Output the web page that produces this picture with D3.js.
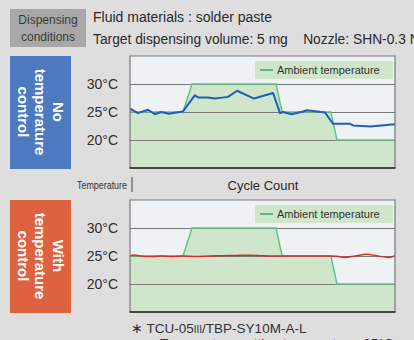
<!DOCTYPE html>
<html><head><meta charset="utf-8">
<script src="https://cdn.jsdelivr.net/npm/d3@7"></script>
<style>
html,body{margin:0;padding:0;background:#dedede;}
svg{display:block;font-family:"Liberation Sans",Arial,sans-serif;}
</style></head>
<body>
<svg id="c" width="414" height="340"></svg>
<script>
// ---- data ----
const yTicks = [20, 25, 30];
const ambientCycle = [0, 20, 23.4, 55.1, 57.4, 75.8, 78.1, 100];
const ambientTemp  = [25, 25, 30, 30, 25, 25, 20, 20];
const noCtrlCycle = [0, 3, 6.8, 9.4, 11.7, 14.7, 17.4, 20, 24.5, 25.7, 29.4, 32, 37, 40.4, 46.8, 54, 56.6, 57.7, 61, 65.3, 66.8, 73.6, 76.6, 83, 84.2, 90.6, 100];
const noCtrlTemp  = [25.6, 24.8, 25.4, 24.6, 25.0, 24.7, 24.9, 25.1, 28.0, 27.6, 27.6, 27.4, 27.7, 28.8, 27.4, 28.4, 24.8, 25.0, 24.6, 25.1, 25.3, 24.9, 22.9, 22.9, 22.6, 22.4, 22.8];
const ctrlCycle = [0, 1.5, 4, 8, 12, 16, 20, 25, 30, 35, 40, 45, 50, 55, 60, 65, 70, 75, 78, 81, 85, 89.4, 93, 97.7, 100];
const ctrlTemp  = [25.0, 25.2, 25.0, 24.9, 25.0, 24.9, 25.0, 24.9, 25.0, 25.05, 25.1, 25.15, 25.05, 25.0, 25.0, 25.0, 25.0, 25.0, 24.95, 24.75, 25.0, 25.3, 25.05, 24.75, 25.05];

const svg = d3.select("#c");
const W = 414, H = 340;
svg.append("rect").attr("width", W).attr("height", H).attr("fill", "#dedede");

// header
svg.append("rect").attr("x", 10).attr("y", 9).attr("width", 76).attr("height", 38).attr("fill", "#a8a8a8");
svg.append("text").attr("x", 48).attr("y", 24).attr("text-anchor", "middle").attr("font-size", 12).attr("fill", "#3a3a3a").text("Dispensing");
svg.append("text").attr("x", 48).attr("y", 41).attr("text-anchor", "middle").attr("font-size", 12).attr("fill", "#3a3a3a").text("conditions");
svg.append("text").attr("x", 93).attr("y", 22).attr("font-size", 14).attr("fill", "#2a2a2a").text("Fluid materials : solder paste");
svg.append("text").attr("x", 93).attr("y", 44).attr("font-size", 13.8).attr("fill", "#2a2a2a")
  .text("Target dispensing volume: 5 mg\u00a0\u00a0\u00a0\u00a0Nozzle: SHN-0.3 N");

const x = d3.scaleLinear().domain([0, 100]).range([130, 395]);

function panel(top, bottom, lineCycle, lineTemp, lineColor, lineW, curve, sideColor, sideLines) {
  const y = d3.scaleLinear().domain([15, 35]).range([bottom, top]);
  const g = svg.append("g");
  g.append("rect").attr("x", x(0)).attr("y", top).attr("width", x(100) - x(0)).attr("height", bottom - top).attr("fill", "#eef2f4");
  const amb = ambientCycle.map((c, i) => [c, ambientTemp[i]]);
  g.append("path").datum(amb)
    .attr("d", d3.area().x(d => x(d[0])).y0(bottom).y1(d => y(d[1])))
    .attr("fill", "#cfe6cb");
  // grid
  const ax = d3.axisLeft(y).tickValues(yTicks).tickSize(-(x(100) - x(0))).tickFormat(d => d + "°C").tickPadding(12);
  const ag = g.append("g").attr("transform", `translate(${x(0)},0)`).call(ax);
  ag.select(".domain").remove();
  ag.selectAll(".tick line").attr("stroke", "#7a7a7a").attr("stroke-width", 1);
  ag.selectAll(".tick text").attr("font-size", 14).attr("fill", "#2e2e2e").attr("font-family", "'Liberation Sans',Arial,sans-serif");
  g.append("path").datum(amb)
    .attr("d", d3.line().x(d => x(d[0])).y(d => y(d[1])))
    .attr("fill", "none").attr("stroke", "#66c088").attr("stroke-width", 1.5);
  const pts = lineCycle.map((c, i) => [c, lineTemp[i]]);
  g.append("path").datum(pts)
    .attr("d", d3.line().x(d => x(d[0])).y(d => y(d[1])).curve(curve))
    .attr("fill", "none").attr("stroke", lineColor).attr("stroke-width", lineW).attr("stroke-linejoin", "round");
  // frame
  g.append("path").attr("d", `M${x(0)},${bottom}V${top}H${x(100)}V${bottom}`).attr("fill", "none").attr("stroke", "#777").attr("stroke-width", 1.2);
  g.append("line").attr("x1", x(0) - 0.5).attr("x2", x(100) + 0.5).attr("y1", bottom).attr("y2", bottom).attr("stroke", "#444").attr("stroke-width", 2);
  // legend
  g.append("rect").attr("x", 255).attr("y", top + 5).attr("width", 138).attr("height", 18).attr("fill", "#cfe6cb");
  g.append("line").attr("x1", 260).attr("x2", 273).attr("y1", top + 14).attr("y2", top + 14).attr("stroke", "#3daa68").attr("stroke-width", 1.5);
  g.append("text").attr("x", 277).attr("y", top + 18).attr("font-size", 11).attr("fill", "#333").text("Ambient temperature");
  // side label
  const cy = (top + bottom) / 2;
  g.append("rect").attr("x", 10).attr("y", top).attr("width", 61).attr("height", bottom - top + 1).attr("fill", sideColor);
  const t = g.append("text").attr("transform", `translate(40.5,${cy}) rotate(90)`)
    .attr("text-anchor", "middle").attr("font-size", 15).attr("font-weight", "bold").attr("fill", "#fff");
  sideLines.forEach((s, i) => {
    t.append("tspan").attr("x", 0).attr("y", (i - 1) * 17.5).attr("dominant-baseline", "central").text(s);
  });
}

panel(56, 168, noCtrlCycle, noCtrlTemp, "#1f5fb5", 2, d3.curveLinear, "#4c79c0", ["No", "temperature", "control"]);
panel(200, 312, ctrlCycle, ctrlTemp, "#cf2e2e", 1.5, d3.curveMonotoneX, "#de6240", ["With", "temperature", "control"]);

// middle labels
svg.append("text").attr("x", 77).attr("y", 189).attr("font-size", 11).attr("fill", "#333")
  .attr("textLength", 50).attr("lengthAdjust", "spacingAndGlyphs").text("Temperature");
svg.append("line").attr("x1", 132).attr("x2", 132).attr("y1", 177).attr("y2", 192).attr("stroke", "#444").attr("stroke-width", 1);
svg.append("text").attr("x", 263).attr("y", 190).attr("text-anchor", "middle").attr("font-size", 13).attr("fill", "#2a2a2a").text("Cycle Count");

// footnote
const fn = svg.append("text").attr("x", 131).attr("y", 333).attr("font-size", 13.5).attr("fill", "#333");
fn.append("tspan").text("\u2217 TCU-05");
fn.append("tspan").attr("font-size", 10).text("III");
fn.append("tspan").text("/TBP-SY10M-A-L");
svg.append("text").attr("x", 160).attr("y", 348).attr("font-size", 13.5).attr("fill", "#333").text("Temperature setting temperature: 25°C");
</script>
</body></html>
